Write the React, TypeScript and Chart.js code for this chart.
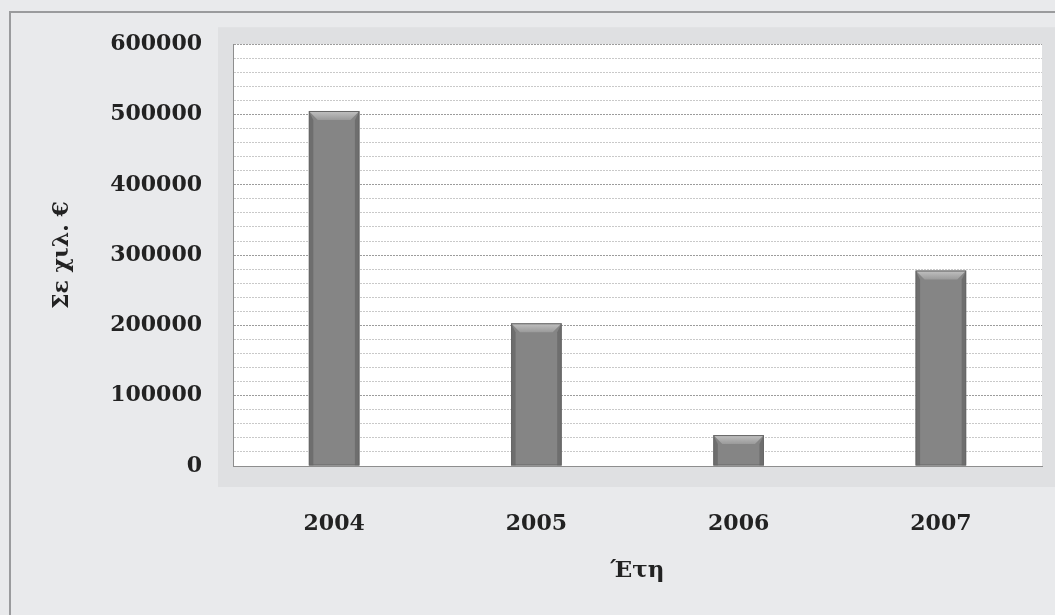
import React, { useEffect, useRef } from "react";
import { Chart, registerables } from "chart.js";

Chart.register(...registerables);

// Amounts per year, in thousands of euros
const years = ["2004", "2005", "2006", "2007"];
const amounts = [505000, 203000, 44000, 278000];

// Value axis: labelled every 100000, light lines every 20000
const yMax = 600000;
const yStep = 20000;
const yLabelEvery = 100000;

const yTitle = "Σε χιλ. €";
const xTitle = "Έτη";

const FONT = "'DejaVu Serif', 'Liberation Serif', serif";

// Paints the grey page, the outer frame line and the textured band around the plot
const backdrop = {
  id: "backdrop",
  beforeDraw(chart: any) {
    const { ctx, chartArea: a, width, height } = chart;
    ctx.save();
    ctx.fillStyle = "#e9eaec";
    ctx.fillRect(0, 0, width, height);
    ctx.strokeStyle = "#9a9b9d";
    ctx.lineWidth = 2;
    ctx.beginPath();
    ctx.moveTo(10, height);
    ctx.lineTo(10, 12);
    ctx.lineTo(width, 12);
    ctx.stroke();
    ctx.fillStyle = "#dfe0e2";
    ctx.fillRect(a.left - 15, a.top - 17, width - (a.left - 15), a.bottom - a.top + 38);
    ctx.fillStyle = "#ffffff";
    ctx.fillRect(a.left, a.top, a.right - a.left, a.bottom - a.top);
    ctx.restore();
  },
};

// Adds a bevelled top and shaded sides to each bar
const bevel = {
  id: "bevel",
  afterDatasetsDraw(chart: any) {
    const { ctx } = chart;
    const meta = chart.getDatasetMeta(0);
    ctx.save();
    meta.data.forEach((bar: any) => {
      const { x, y, base, width } = bar.getProps(["x", "y", "base", "width"], true);
      const l = x - width / 2;
      const r = x + width / 2;
      const d = Math.min(9, (base - y) / 2);
      // top facet
      const gTop = ctx.createLinearGradient(0, y, 0, y + d);
      gTop.addColorStop(0, "#c2c2c2");
      gTop.addColorStop(1, "#9a9a9a");
      ctx.fillStyle = gTop;
      ctx.beginPath();
      ctx.moveTo(l, y);
      ctx.lineTo(r, y);
      ctx.lineTo(r - d, y + d);
      ctx.lineTo(l + d, y + d);
      ctx.closePath();
      ctx.fill();
      // side facets
      ctx.fillStyle = "rgba(60,60,60,0.3)";
      ctx.beginPath();
      ctx.moveTo(l, y);
      ctx.lineTo(l + d * 0.5, y + d);
      ctx.lineTo(l + d * 0.5, base);
      ctx.lineTo(l, base);
      ctx.closePath();
      ctx.fill();
      ctx.beginPath();
      ctx.moveTo(r, y);
      ctx.lineTo(r - d * 0.5, y + d);
      ctx.lineTo(r - d * 0.5, base);
      ctx.lineTo(r, base);
      ctx.closePath();
      ctx.fill();
      ctx.strokeStyle = "#666666";
      ctx.lineWidth = 1;
      ctx.strokeRect(l + 0.5, y + 0.5, width - 1, base - y - 1);
    });
    ctx.restore();
  },
};

export default function App() {
  const ref = useRef<HTMLCanvasElement>(null);

  useEffect(() => {
    if (!ref.current) return;
    const chart = new Chart(ref.current, {
      type: "bar",
      data: {
        labels: years,
        datasets: [
          {
            data: amounts,
            backgroundColor: "#858585",
            borderWidth: 0,
            barPercentage: 0.5,
            categoryPercentage: 0.5,
          },
        ],
      },
      options: {
        animation: false,
        responsive: false,
        layout: { padding: { top: 42, left: 10, right: 13, bottom: 0 } },
        plugins: {
          legend: { display: false },
          tooltip: { enabled: false },
        },
        scales: {
          x: {
            grid: { display: false },
            border: { display: true, color: "#8e8e8e", width: 1 },
            ticks: {
              color: "#222",
              padding: 37,
              font: { family: FONT, size: 22, weight: "bold" },
            },
            title: {
              display: true,
              text: xTitle,
              color: "#222",
              padding: { top: 0, bottom: 30 },
              font: { family: FONT, size: 23, weight: "bold" },
            },
            afterFit(s: any) {
              s.height = 149;
            },
          },
          y: {
            min: 0,
            max: yMax,
            grid: {
              drawTicks: false,
              color: (c: any) =>
                c.tick && c.tick.value % yLabelEvery === 0 ? "#9c9c9c" : "#c9c9c9",
            },
            border: { display: true, color: "#8e8e8e", width: 1, dash: [2, 1] },
            ticks: {
              stepSize: yStep,
              autoSkip: false,
              padding: 31,
              color: "#222",
              font: { family: FONT, size: 22, weight: "bold" },
              callback: (v: any) => (Number(v) % yLabelEvery === 0 ? String(v) : ""),
            },
            title: {
              display: true,
              text: yTitle,
              color: "#222",
              padding: { top: 39, bottom: 0 },
              font: { family: FONT, size: 22, weight: "bold" },
            },
            afterFit(s: any) {
              s.width = 223;
            },
          },
        },
      },
      plugins: [backdrop, bevel],
    });
    return () => chart.destroy();
  }, []);

  return (
    <div style={{ position: "fixed", left: 0, top: 0, width: 1055, height: 615 }}>
      <canvas ref={ref} width={1055} height={615} style={{ display: "block" }} />
    </div>
  );
}
